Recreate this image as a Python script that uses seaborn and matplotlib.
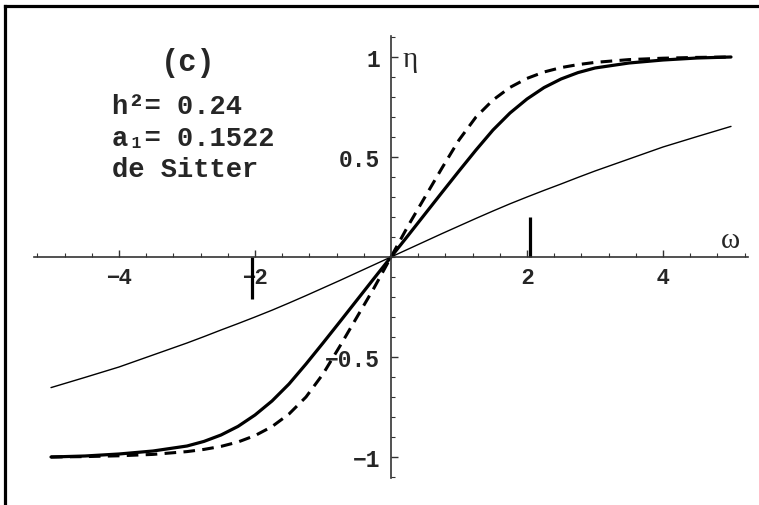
import numpy as np
import pandas as pd
import matplotlib
matplotlib.use("Agg")
import matplotlib.pyplot as plt
from matplotlib.lines import Line2D
from matplotlib.ticker import MultipleLocator, FixedLocator, FixedFormatter
import seaborn as sns

# ---- data ----
omega = [-5, -4.5, -4, -3.5, -3, -2.75, -2.5, -2.25, -2, -1.75, -1.5, -1.25, -1, -0.75, -0.5, -0.25,
         0, 0.25, 0.5, 0.75, 1, 1.25, 1.5, 1.75, 2, 2.25, 2.5, 2.75, 3, 3.5, 4, 4.5, 5]
eta_thin = [-0.653, -0.602, -0.55, -0.49, -0.43, -0.398, -0.365, -0.333, -0.30, -0.266, -0.23, -0.193,
            -0.155, -0.117, -0.078, -0.039, 0.0, 0.039, 0.078, 0.117, 0.155, 0.193, 0.23, 0.266,
            0.30, 0.333, 0.365, 0.398, 0.43, 0.49, 0.55, 0.602, 0.653]
eta_thick = [-1.0, -0.995, -0.985, -0.97, -0.945, -0.922, -0.89, -0.847, -0.79, -0.72, -0.635, -0.535,
             -0.43, -0.323, -0.215, -0.107, 0.0, 0.107, 0.215, 0.323, 0.43, 0.535, 0.635, 0.72,
             0.79, 0.847, 0.89, 0.922, 0.945, 0.97, 0.985, 0.995, 1.0]
eta_dashed = [-1.0, -0.998, -0.994, -0.987, -0.973, -0.962, -0.947, -0.925, -0.893, -0.848, -0.785, -0.70,
              -0.585, -0.445, -0.30, -0.155, 0.0, 0.155, 0.30, 0.445, 0.585, 0.70, 0.785, 0.848,
              0.893, 0.925, 0.947, 0.962, 0.973, 0.987, 0.994, 0.998, 1.0]
marker_omega = [2.04, -2.04]
marker_eta = [(0.0, 0.2), (0.0, -0.21)]
xticks_major = [-4, -2, 2, 4]
xtick_labels = ["\u22124", "\u22122", "2", "4"]
yticks_major = [-1, -0.5, 0.5, 1]
ytick_labels = ["\u22121", "\u22120.5", "0.5", "1"]
annot_lines = ["(c)", "h\u00b2= 0.24", "a\u2081= 0.1522", "de Sitter"]

df = pd.DataFrame({"omega": omega, "thin": eta_thin, "thick": eta_thick, "dashed": eta_dashed})

sns.set_theme(style="white")
plt.rcParams["font.family"] = ["Liberation Sans", "DejaVu Sans"]

W, H = 759, 506
fig = plt.figure(figsize=(W / 100, H / 100), dpi=100)
ax = fig.add_axes([34 / W, 1 - 479 / H, (748 - 34) / W, (479 - 37) / H])
ax.set_facecolor("none")

sns.lineplot(data=df, x="omega", y="thin", ax=ax, color="black", linewidth=1.0, sort=False)
sns.lineplot(data=df, x="omega", y="thick", ax=ax, color="black", linewidth=2.3, sort=False)
sns.lineplot(data=df, x="omega", y="dashed", ax=ax, color="black", linewidth=2.2,
             linestyle=(0, (3.8, 2.4)), sort=False)

for xm, (y0, y1) in zip(marker_omega, marker_eta):
    ax.plot([xm, xm], [y0, y1], color="black", lw=2.3, solid_capstyle="butt")

ax.set_xlim(-5.25, 5.25)
ax.set_ylim(-1.105, 1.105)
ax.set_xlabel("")
ax.set_ylabel("")

for s in ["top", "right"]:
    ax.spines[s].set_visible(False)
for s in ["left", "bottom"]:
    ax.spines[s].set_position(("data", 0))
    ax.spines[s].set_color("#333333")
    ax.spines[s].set_linewidth(1.2)

ax.xaxis.set_major_locator(FixedLocator(xticks_major))
ax.xaxis.set_major_formatter(FixedFormatter(xtick_labels))
ax.xaxis.set_minor_locator(MultipleLocator(0.4))
ax.yaxis.set_major_locator(FixedLocator(yticks_major))
ax.yaxis.set_major_formatter(FixedFormatter(ytick_labels))
ax.yaxis.set_minor_locator(MultipleLocator(0.1))

ax.tick_params(axis="both", which="both", bottom=True, left=True, top=False, right=False)
ax.tick_params(axis="both", which="major", direction="in", length=5, width=1.0, color="#333333")
ax.tick_params(axis="both", which="minor", direction="in", length=3, width=0.8, color="#333333")
ax.tick_params(axis="x", which="major", pad=7, labelsize=16)
ax.tick_params(axis="y", which="major", pad=8, labelsize=16.5)
for lab in ax.get_xticklabels():
    lab.set_fontweight("bold")
    lab.set_family(["Liberation Sans", "DejaVu Sans"])
for lab in ax.get_yticklabels():
    lab.set_fontweight("bold")
    lab.set_family(["Liberation Mono", "DejaVu Sans Mono"])

ax.text(4.99, 0.085, "\u03c9", fontsize=21, family=["Liberation Serif", "DejaVu Serif"],
        ha="center", va="center")
ax.text(0.28, 0.99, "\u03b7", fontsize=21, family=["Liberation Serif", "DejaVu Serif"],
        ha="center", va="center")

mono = ["Liberation Mono", "DejaVu Sans Mono"]
fig.text(188 / W, 1 - 63 / H, annot_lines[0], fontsize=22, fontweight="bold", family=mono,
         ha="center", va="center")
for i, t in enumerate(annot_lines[1:]):
    yc = [107, 139, 170][i]
    fig.text(112 / W, 1 - yc / H, t, fontsize=19.5, fontweight="bold", family=mono,
             ha="left", va="center")

# outer frame lines (left and top)
fig.add_artist(Line2D([5 / W, 5 / W], [0, 1 - 7 / H], transform=fig.transFigure,
                      color="black", lw=2.3, solid_capstyle="projecting"))
fig.add_artist(Line2D([5 / W, 1], [1 - 7 / H, 1 - 7 / H], transform=fig.transFigure,
                      color="black", lw=2.3, solid_capstyle="projecting"))

fig.savefig("out.png", dpi=100, facecolor="white")
